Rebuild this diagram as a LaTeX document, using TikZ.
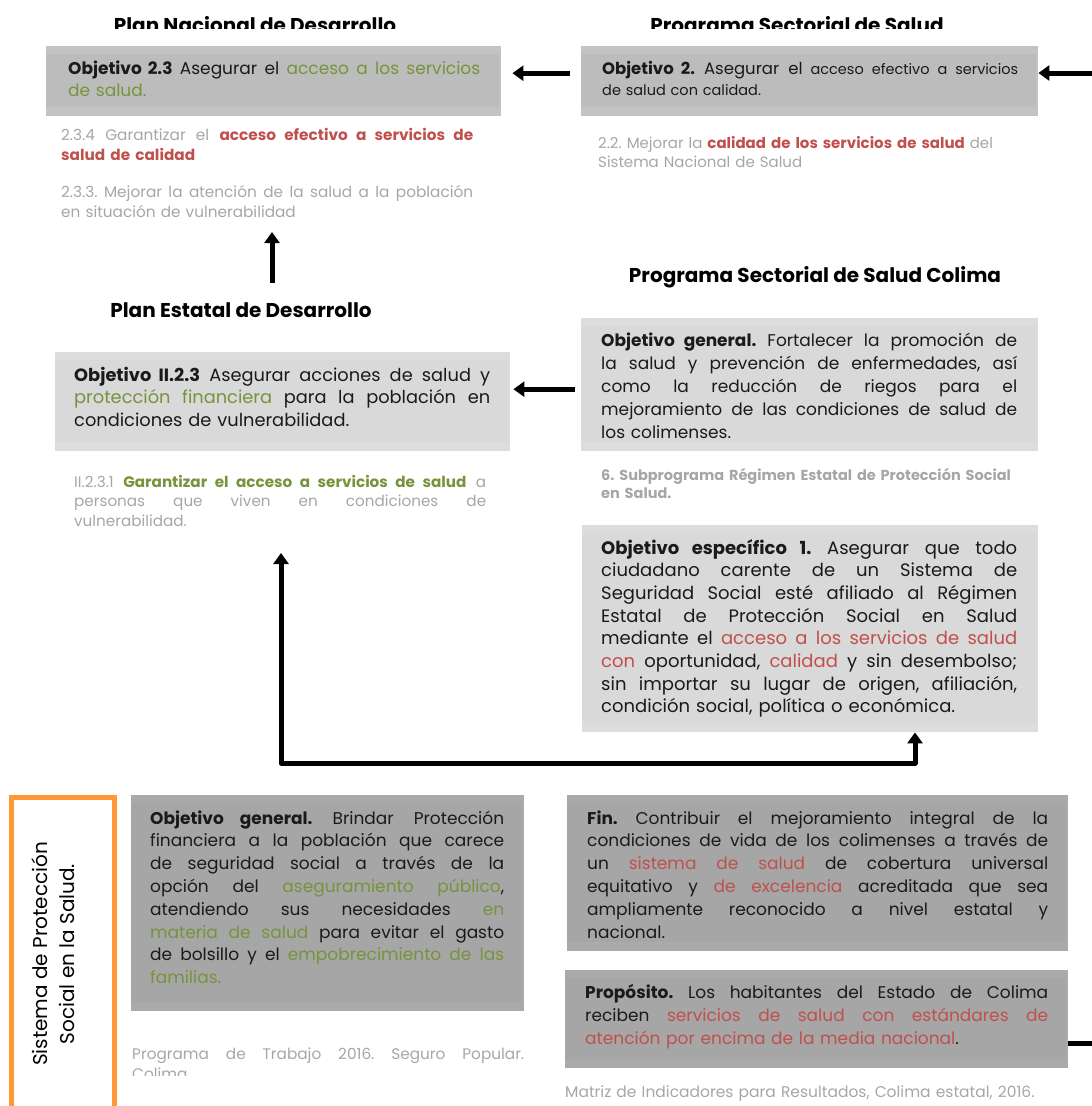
\documentclass[tikz,border=0pt]{standalone}
\usepackage{fontspec}
\setmainfont{Poppins}
\usetikzlibrary{arrows.meta,calc}

\definecolor{grn}{HTML}{77933C}
\definecolor{rd}{HTML}{C0504D}
\definecolor{srcgray}{HTML}{A6A6A6}
\definecolor{ink}{HTML}{1A1A1A}
\definecolor{midA}{HTML}{C3C3C3}
\definecolor{midB}{HTML}{BCBCBC}
\definecolor{liteA}{HTML}{DDDDDD}
\definecolor{liteB}{HTML}{D9D9D9}
\definecolor{darkA}{HTML}{AAAAAA}
\definecolor{darkB}{HTML}{A6A6A6}
\definecolor{orng}{HTML}{FF9933}

% one justified line of a paragraph, spread over the full text width
% (align=left fixes \spaceskip without stretch, so it is reset here)
\newcommand\J[1]{\makebox[\hsize][s]{\spaceskip=0pt\xspaceskip=0pt #1}}
\newcommand\G[1]{\textcolor{grn}{#1}}
\newcommand\R[1]{\textcolor{rd}{#1}}

\tikzset{
  panel/.style={draw=none, inner sep=0pt, anchor=north west},
  txt/.style={anchor=base west, inner sep=0pt, text width=#1, align=left, text=ink},
  srctxt/.style={anchor=base west, inner sep=0pt, text width=#1, align=left, text=srcgray},
  title/.style={anchor=base, inner sep=0pt, font=\fontsize{20}{22}\selectfont\bfseries, text=black},
  arr/.style={line width=5pt, -{Triangle[width=15pt,length=11pt]}},
  link/.style={line width=5pt, line join=round},
}

% panel with a slightly lighter frame band
\newcommand\panelshade[2]{%
  \fill[#2] ($(#1.north west)+(0,8)$) rectangle ($(#1.south east)+(-2,-9)$);}

\begin{document}
\frenchspacing
\begin{tikzpicture}[x=1pt, y=-1pt]
\useasboundingbox (0,0) rectangle (1092,1106);
\clip (0,0) rectangle (1092,1106);

% ---------- titles (top row cut by the page header) ----------
\begin{scope}
  \clip (0,0) rectangle (1092,28.5);
  \node[title] (tpnd) at (255,32) {Plan Nacional de Desarrollo};
  \node[title] (tpss) at (797,32) {Programa Sectorial de Salud};
\end{scope}

% ---------- Plan Nacional de Desarrollo ----------
\node[panel, fill=midA, minimum width=455, minimum height=70] (pnd) at (46,46) {};
\panelshade{pnd}{midB}
\node[txt=412, font=\fontsize{17}{22}\selectfont] (pndt) at (68,74)
  {\J{\textbf{Objetivo 2.3} Asegurar el \G{acceso a los servicios}}\\
   \G{de salud.}};

\node[srctxt=412, font=\fontsize{15.3}{20.5}\selectfont] (pnd234) at (61,140)
  {\J{2.3.4 Garantizar el \R{\textbf{acceso efectivo a servicios de}}}\\
   \R{\textbf{salud de calidad}}};
\node[srctxt=412, font=\fontsize{15.3}{20.5}\selectfont] (pnd233) at (61,197)
  {\J{2.3.3. Mejorar la atención de la salud a la población}\\
   en situación de vulnerabilidad};

% ---------- Programa Sectorial de Salud ----------
\node[panel, fill=midA, minimum width=457, minimum height=70] (pss) at (581,46) {};
\panelshade{pss}{midB}
\node[txt=416, font=\fontsize{14.5}{21}\selectfont] (psst) at (602,74)
  {\J{{\fontsize{16.5}{21}\selectfont\textbf{Objetivo 2.} Asegurar el} acceso efectivo a servicios}\\
   de salud con calidad.};
\node[srctxt=400, font=\fontsize{15}{19.5}\selectfont] (pss22) at (598,148)
  {2.2. Mejorar la \R{\textbf{calidad de los servicios de salud}} del\\
   Sistema Nacional de Salud};

% ---------- Plan Estatal de Desarrollo ----------
\node[title] (tped) at (241,317) {Plan Estatal de Desarrollo};
\node[panel, fill=liteA, minimum width=455, minimum height=99] (ped) at (55,352) {};
\panelshade{ped}{liteB}
\node[txt=416, font=\fontsize{17.8}{22.5}\selectfont] (pedt) at (74,381)
  {\J{\textbf{Objetivo II.2.3} Asegurar acciones de salud y}\\
   \J{\G{protección financiera} para la población en}\\
   condiciones de vulnerabilidad.};
\node[srctxt=412, font=\fontsize{15.2}{19.5}\selectfont] (ped231) at (74,487)
  {\J{II.2.3.1 \G{\textbf{Garantizar el acceso a servicios de salud}} a}\\
   \J{personas que viven en condiciones de}\\
   vulnerabilidad.};

% ---------- Programa Sectorial de Salud Colima ----------
\node[title] (tpssc) at (815,282) {Programa Sectorial de Salud Colima};
\node[panel, fill=liteA, minimum width=457, minimum height=133] (pssc) at (581,318) {};
\panelshade{pssc}{liteB}
\node[txt=416, font=\fontsize{17}{23}\selectfont] (pssct) at (601,346)
  {\J{\textbf{Objetivo general.} Fortalecer la promoción de}\\
   \J{la salud y prevención de enfermedades, así}\\
   \J{como la reducción de riegos para el}\\
   \J{mejoramiento de las condiciones de salud de}\\
   los colimenses.};
\node[srctxt=416, font=\fontsize{14.5}{18}\selectfont\bfseries] (sub6) at (601,480)
  {6. Subprograma Régimen Estatal de Protección Social\\
   en Salud.};

\node[panel, fill=liteA, minimum width=456, minimum height=207] (oesp) at (582,525) {};
\panelshade{oesp}{liteB}
\node[txt=416, font=\fontsize{18}{22.7}\selectfont] (oespt) at (601,554)
  {\J{\textbf{Objetivo específico 1.} Asegurar que todo}\\
   \J{ciudadano carente de un Sistema de}\\
   \J{Seguridad Social esté afiliado al Régimen}\\
   \J{Estatal de Protección Social en Salud}\\
   \J{mediante el \R{acceso a los servicios de salud}}\\
   \J{\R{con} oportunidad, \R{calidad} y sin desembolso;}\\
   \J{sin importar su lugar de origen, afiliación,}\\
   condición social, política o económica.};

% ---------- Sistema de Protección Social en la Salud ----------
\draw[orng, line width=5pt] (11,1120) -- (11,797) -- (114,797) -- (114,1120);
\node[rotate=90, align=center, inner sep=0pt, font=\fontsize{20}{27}\selectfont, text=black]
  (spslabel) at (53,954) {Sistema de Protección\\Social en la Salud.};

\node[panel, fill=darkA, minimum width=393, minimum height=216] (spss) at (131,795) {};
\panelshade{spss}{darkB}
\node[txt=354, font=\fontsize{17}{22.8}\selectfont] (spsst) at (150,824)
  {\J{\textbf{Objetivo general.} Brindar Protección}\\
   \J{financiera a la población que carece}\\
   \J{de seguridad social a través de la}\\
   \J{opción del \G{aseguramiento público},}\\
   \J{atendiendo sus necesidades \G{en}}\\
   \J{\G{materia de salud} para evitar el gasto}\\
   \J{de bolsillo y el \G{empobrecimiento de las}}\\
   \G{familias.}};
\begin{scope}
  \clip (0,1035) rectangle (1092,1075);
  \node[srctxt=392, font=\fontsize{15.3}{20}\selectfont] (pt2016) at (132,1059)
    {\J{Programa de Trabajo 2016. Seguro Popular.}\\
     Colima};
\end{scope}

% ---------- Matriz de Indicadores para Resultados ----------
\node[panel, fill=darkA, minimum width=501, minimum height=156] (fin) at (567,795) {};
\panelshade{fin}{darkB}
\node[txt=461, font=\fontsize{17}{22.8}\selectfont] (fint) at (587,824)
  {\J{\textbf{Fin.} Contribuir el mejoramiento integral de la}\\
   \J{condiciones de vida de los colimenses a través de}\\
   \J{un \R{sistema de salud} de cobertura universal}\\
   \J{equitativo y \R{de excelencia} acreditada que sea}\\
   \J{ampliamente reconocido a nivel estatal y}\\
   nacional.};

\node[panel, fill=darkA, minimum width=503, minimum height=98] (prop) at (565,970) {};
\panelshade{prop}{darkB}
\node[txt=463, font=\fontsize{17}{23}\selectfont] (propt) at (585,998)
  {\J{\textbf{Propósito.} Los habitantes del Estado de Colima}\\
   \J{reciben \R{servicios de salud con estándares de}}\\
   \R{atención por encima de la media nacional}.};
\node[srctxt=500, font=\fontsize{15.5}{20}\selectfont] (mir) at (565,1097)
  {Matriz de Indicadores para Resultados, Colima estatal, 2016.};

% ---------- connectors ----------
\coordinate (fromR) at (1092,73);
\draw[arr] (fromR) -- ($(fromR -| pss.east)$);
\draw[arr] ($(pss.west)+(-11,-8)$) -- ($(pnd.east)+(11,-8)$);
\draw[arr] ($(pssc.west)+(-6,4.5)$) -- ($(ped.east)+(3,-12.5)$);

\coordinate (pedup) at (272,283);
\coordinate (pndsrc) at (272,232);
\draw[arr] (pedup) -- (pndsrc);

\coordinate (jl) at (281,763);
\coordinate (jr) at (915,763);
\coordinate (pedsrc) at (281,553);
\draw[link, {Triangle[width=15pt,length=11pt]}-{Triangle[width=15pt,length=11pt]}]
  (pedsrc) -- (jl) -- (jr) -- (jr |- oesp.south);
\draw[link] ($(spss.north west)+(301,0)$) -- ($(spss.north west)+(301,0)$ |- jl);
\draw[link] ($(fin.north west)+(249,0)$) -- ($(fin.north west)+(249,0)$ |- jl);

\coordinate (toR) at (1092,1043);
\draw[link] (toR -| prop.east) -- (toR);
\end{tikzpicture}
\end{document}
